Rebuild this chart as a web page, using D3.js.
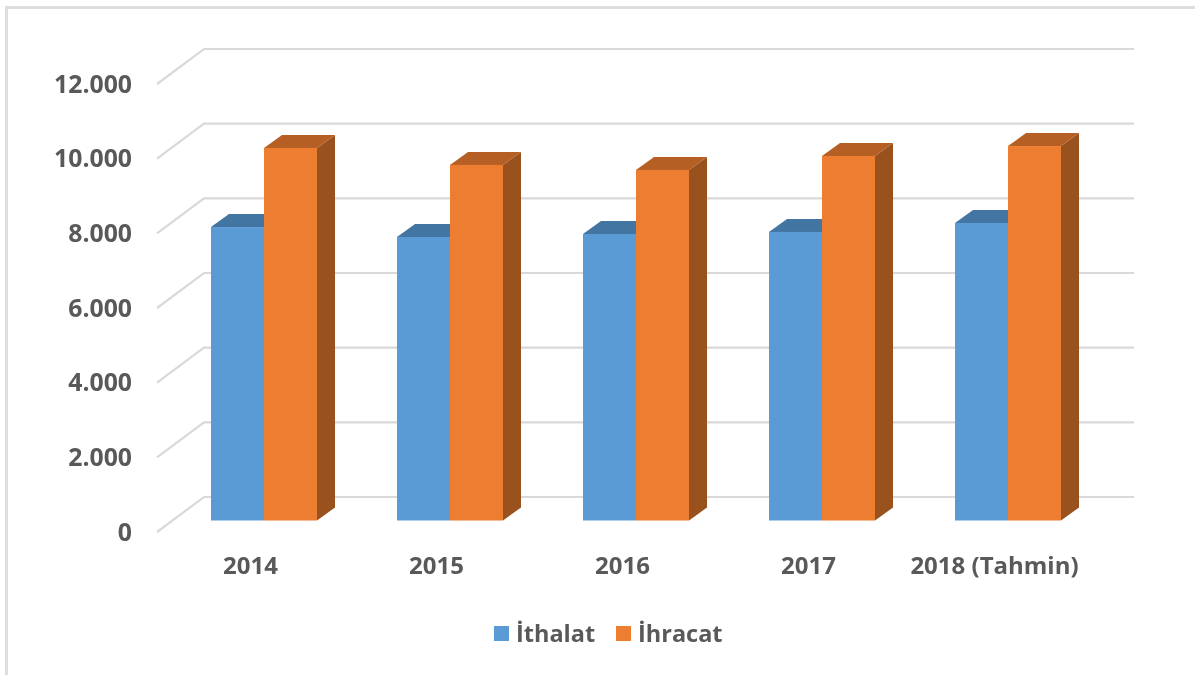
<!DOCTYPE html>
<html><head><meta charset="utf-8">
<script src="https://cdn.jsdelivr.net/npm/d3@7"></script>
<style>html,body{margin:0;background:#fff}svg{display:block;filter:blur(.45px)}text{font-family:"Open Sans",sans-serif;font-weight:700;fill:#595959}</style>
</head><body><svg id="c" width="1195" height="675"></svg>
<script>
const categories=["2014","2015","2016","2017","2018 (Tahmin)"];
const ithalat=[7860,7595,7675,7730,7970];
const ihracat=[9980,9525,9390,9765,10030];
const seriesNames=["İthalat","İhracat"];
const seriesFront=["#5b9bd5","#ed7d31"];
const seriesTop=["#4375a3","#b65f25"];
const seriesSide=["#3e6b95","#99511e"];
const ticks=[0,2000,4000,6000,8000,10000,12000];
const depthX=18,depthY=13;
const svg=d3.select("#c");
svg.append("path").attr("d","M6.5 675V7.5H1195").attr("fill","none").attr("stroke","#dedede").attr("stroke-width",3);
const y=d3.scaleLinear().domain([0,12000]).range([520.5,72.5]);
const x0=d3.scaleBand().domain(categories).range([211,1141]).paddingInner(0).paddingOuter(0);
const fmt=v=>d3.format(",")(v).replace(/,/g,".");
const xs=d3.scaleBand().domain(seriesNames).range([0,106]);
const gridBackX=204,gridEnd=1134,tickX=157,gridDX=47,gridDY=35;
const grid=svg.append("g");
ticks.forEach(t=>{
  const yb=y(t)-23.5;
  grid.append("path").attr("d",`M${tickX} ${yb+gridDY}L${gridBackX} ${yb}H${gridEnd}`)
    .attr("fill","none").attr("stroke","#d9d9d9").attr("stroke-width",2.2);
  svg.append("text").attr("x",132).attr("y",yb+gridDY+8.5).attr("text-anchor","end").attr("font-size",24.8).text(fmt(t));
});
const all=[ithalat,ihracat];
categories.forEach((c,i)=>{
  [0,1].forEach(s=>{
    const v=all[s][i],bx=x0(c)+xs(seriesNames[s]),w=xs.bandwidth(),yt=y(v),yb=y(0);
    const g=svg.append("g");
    if(s===1) g.append("path").attr("d",`M${bx+w} ${yt}l${depthX} ${-depthY}V${yb-depthY}l${-depthX} ${depthY}Z`).attr("fill",seriesSide[s]);
    g.append("path").attr("d",`M${bx} ${yt}l${depthX} ${-depthY}h${w}l${-depthX} ${depthY}Z`).attr("fill",seriesTop[s]);
    g.append("rect").attr("x",bx).attr("y",yt).attr("width",w).attr("height",yb-yt).attr("fill",seriesFront[s]);
  });
  svg.append("text").attr("x",x0(c)+39.5).attr("y",574).attr("text-anchor","middle").attr("font-size",24).text(c);
});
const legX=[494,616];
seriesNames.forEach((n,i)=>{
  svg.append("rect").attr("x",legX[i]).attr("y",626).attr("width",15).attr("height",15).attr("fill",seriesFront[i]);
  svg.append("text").attr("x",legX[i]+22).attr("y",642).attr("font-size",23.5).text(n);
});
</script></body></html>
